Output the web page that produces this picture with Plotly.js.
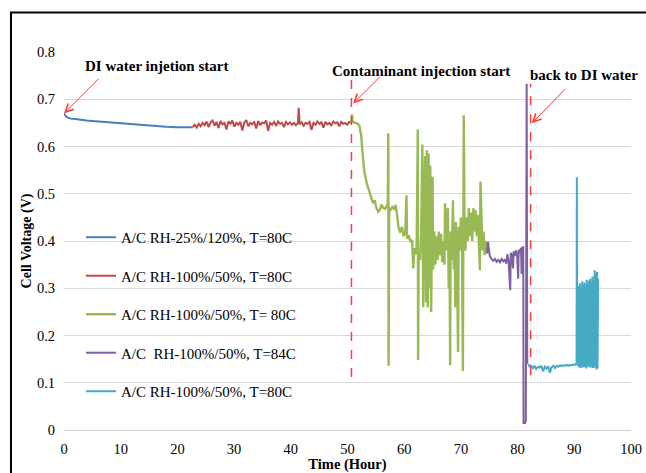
<!DOCTYPE html>
<html>
<head>
<meta charset="utf-8">
<script src="https://cdn.plot.ly/plotly-3.0.1.min.js"></script>
<style>
  html, body { margin: 0; padding: 0; background: #ffffff; }
  #chart { width: 646px; height: 473px; }
</style>
</head>
<body>
<div id="chart"></div>
<script>
// ---------------- data ----------------
const seriesNames = [
  "A/C RH-25%/120%, T=80C",
  "A/C RH-100%/50%, T=80C",
  "A/C RH-100%/50%, T= 80C",
  "A/C  RH-100%/50%, T=84C",
  "A/C RH-100%/50%, T=80C"
];

const blueX = [0, 0.3, 0.7, 1.2, 2, 3, 4, 5, 6, 8, 10, 12, 14, 16, 18, 20, 22, 22.7];
const blueY = [0.670, 0.664, 0.661, 0.659, 0.658, 0.656, 0.655, 0.654, 0.653, 0.652, 0.650, 0.648, 0.646, 0.644, 0.642, 0.641, 0.641, 0.641];

const redX = [22.7, 23.05, 23.4, 23.75, 24.1, 24.45, 24.8, 25.15, 25.5, 25.85,
              26.2, 26.55, 26.9, 27.25, 27.6, 27.95, 28.3, 28.65, 29.0, 29.35,
              29.7, 30.05, 30.4, 30.75, 31.1, 31.45, 31.8, 32.15, 32.5, 32.85,
              33.2, 33.55, 33.9, 34.25, 34.6, 34.95, 35.3, 35.65, 36.0, 36.35,
              36.7, 37.05, 37.4, 37.75, 38.1, 38.45, 38.8, 39.15, 39.5, 39.85,
              40.2, 40.55, 40.9, 41.25,
              41.4,
              41.55, 41.9, 42.25, 42.6, 42.95, 43.3, 43.65, 44.0, 44.35, 44.7,
              45.05, 45.4, 45.75, 46.1, 46.45, 46.8, 47.15, 47.5, 47.85, 48.2,
              48.55, 48.9, 49.25, 49.6, 49.95, 50.3,
              50.7];
const redY = [0.641, 0.646, 0.640, 0.648, 0.643, 0.650, 0.645, 0.653, 0.641, 0.651,
              0.655, 0.644, 0.652, 0.639, 0.654, 0.647, 0.650, 0.636, 0.653, 0.648,
              0.655, 0.642, 0.650, 0.646, 0.652, 0.634, 0.651, 0.656, 0.643, 0.650,
              0.647, 0.653, 0.638, 0.654, 0.645, 0.651, 0.649, 0.655, 0.633, 0.650,
              0.646, 0.652, 0.644, 0.653, 0.648, 0.650, 0.641, 0.652, 0.647, 0.651,
              0.646, 0.650, 0.645, 0.649,
              0.682,
              0.647, 0.651, 0.644, 0.650, 0.648, 0.652, 0.635, 0.650, 0.646, 0.653,
              0.648, 0.651, 0.640, 0.652, 0.647, 0.650, 0.645, 0.653, 0.649, 0.651,
              0.643, 0.652, 0.648, 0.650, 0.646, 0.652,
              0.650];

const greenX = [50.7, 50.8, 50.9, 51.3, 51.8, 52.1, 52.4, 52.7, 53.0, 53.4,
                53.8, 54.2, 54.5, 54.8, 55.1, 55.4, 55.7, 56.0, 56.3, 56.6,
                56.9, 57.1, 57.2, 57.25, 57.35, 57.6, 57.9, 58.2, 58.5, 58.8,
                59.0, 59.3, 59.6, 59.9, 60.2, 60.4, 60.5, 60.8, 61.1, 61.4,
                61.6, 61.8, 62.0, 62.2, 62.4, 62.45, 62.55, 62.8, 63.0, 63.2,
                63.35, 63.5, 63.7, 63.85, 64.0, 64.15, 64.3, 64.45, 64.6, 64.75,
                64.9, 65.0, 65.1, 65.3, 65.5, 65.7, 65.9, 66.1, 66.3, 66.5,
                66.7, 66.9, 67.1, 67.2, 67.35, 67.5, 67.7, 67.85, 68.0, 68.1,
                68.2, 68.4, 68.6, 68.75, 68.9, 69.0, 69.1, 69.3, 69.5, 69.6,
                69.8, 70.0, 70.2, 70.35, 70.5, 70.65, 70.8, 71.0, 71.2, 71.4,
                71.6, 71.8, 72.0, 72.2, 72.4, 72.6, 72.8, 73.0, 73.2, 73.35,
                73.45, 73.6, 73.8, 74.0, 74.2, 74.4, 74.6];
const greenY = [0.650, 0.668, 0.652, 0.650, 0.648, 0.644, 0.625, 0.580, 0.545, 0.522,
                0.506, 0.492, 0.480, 0.486, 0.470, 0.462, 0.466, 0.477, 0.470, 0.468,
                0.474, 0.470, 0.628, 0.136, 0.470, 0.466, 0.472, 0.468, 0.476, 0.450,
                0.428, 0.418, 0.430, 0.410, 0.420, 0.497, 0.405, 0.412, 0.398, 0.402,
                0.342, 0.385, 0.372, 0.390, 0.636, 0.148, 0.380, 0.360, 0.420, 0.604,
                0.260, 0.450, 0.580, 0.270, 0.592, 0.260, 0.585, 0.300, 0.560, 0.250,
                0.430, 0.536, 0.340, 0.420, 0.350, 0.410, 0.360, 0.420, 0.370, 0.415,
                0.355, 0.400, 0.350, 0.480, 0.380, 0.420, 0.470, 0.300, 0.380, 0.137,
                0.420, 0.360, 0.486, 0.340, 0.430, 0.260, 0.440, 0.370, 0.165, 0.430,
                0.380, 0.450, 0.390, 0.125, 0.666, 0.420, 0.380, 0.450, 0.400, 0.470,
                0.410, 0.460, 0.400, 0.470, 0.420, 0.465, 0.410, 0.455, 0.400, 0.338,
                0.526, 0.430, 0.380, 0.420, 0.370, 0.400, 0.374];

const purpleX = [74.6, 74.8, 74.9, 75.1, 75.4, 75.7, 76.0, 76.3, 76.6, 76.9,
                 77.2, 77.5, 77.8, 78.0, 78.2, 78.4, 78.7, 78.8, 79.0, 79.2,
                 79.3, 79.5, 79.7, 79.9, 80.1, 80.2, 80.4, 80.6, 80.7, 80.8,
                 81.0, 81.05, 81.3, 81.45, 81.6, 81.7];
const purpleY = [0.374, 0.398, 0.385, 0.368, 0.362, 0.358, 0.362, 0.356, 0.360, 0.355,
                 0.362, 0.357, 0.361, 0.352, 0.372, 0.360, 0.296, 0.375, 0.370, 0.342,
                 0.378, 0.368, 0.380, 0.372, 0.320, 0.382, 0.375, 0.385, 0.330, 0.386,
                 0.387, 0.015, 0.015, 0.020, 0.733, 0.140];

const cyanX = [81.9, 82.1, 82.4, 82.7, 83.0, 83.3, 83.6, 83.9, 84.2, 84.5,
               84.8, 85.1, 85.4, 85.7, 86.0, 86.3, 86.6, 86.9, 87.2, 87.5,
               87.8, 88.1, 88.4, 88.7, 89.0, 89.3, 89.6, 89.9, 90.2, 90.4,
               90.45, 90.5, 90.6, 90.7, 90.8, 90.9, 91.0, 91.1, 91.2, 91.3,
               91.4, 91.5, 91.6, 91.7, 91.8, 91.9, 92.0, 92.1, 92.2, 92.3,
               92.4, 92.5, 92.6, 92.7, 92.8, 92.9, 93.0, 93.1, 93.2, 93.3,
               93.4, 93.5, 93.6, 93.7, 93.8, 93.9, 94.0, 94.1, 94.2];
const cyanY = [0.140, 0.134, 0.136, 0.131, 0.135, 0.129, 0.134, 0.132, 0.136, 0.124,
               0.134, 0.130, 0.135, 0.121, 0.133, 0.136, 0.131, 0.136, 0.134, 0.137,
               0.135, 0.137, 0.136, 0.138, 0.136, 0.138, 0.137, 0.139, 0.138, 0.140,
               0.535, 0.140, 0.300, 0.135, 0.305, 0.132, 0.310, 0.135, 0.302, 0.131,
               0.315, 0.136, 0.308, 0.133, 0.312, 0.134, 0.305, 0.130, 0.318, 0.135,
               0.310, 0.133, 0.316, 0.136, 0.320, 0.132, 0.312, 0.135, 0.325, 0.131,
               0.318, 0.134, 0.338, 0.132, 0.330, 0.128, 0.335, 0.130, 0.320];

const xTickVals = [0, 10, 20, 30, 40, 50, 60, 70, 80, 90, 100];
const yTickVals = [0, 0.1, 0.2, 0.3, 0.4, 0.5, 0.6, 0.7, 0.8];

// event markers (dashed lines) and callouts
const eventX = [50.7, 82.3];
const eventYLow = [0.112, 0.116];
const eventYHigh = [0.750, 0.733];
const calloutText = ["DI water injetion start", "Contaminant injection start", "back to DI water"];
const calloutX = [16.4, 62.9, 91.7];
const calloutY = [0.770, 0.760, 0.751];
const arrowHeadX = [0, 51.0, 82.5];
const arrowHeadY = [0.670, 0.691, 0.649];

// ---------------- styling ----------------
const colors = ["#4A7EBB", "#BE4B48", "#98B954", "#7D60A0", "#46AAC5"];
const widths = [2, 2, 2.4, 2, 2];
const serif = "Liberation Serif";

const xs = [blueX, redX, greenX, purpleX, cyanX];
const ys = [blueY, redY, greenY, purpleY, cyanY];

const traces = xs.map((x, i) => ({
  type: "scatter",
  mode: "lines",
  x: x,
  y: ys[i],
  name: seriesNames[i],
  legendgroup: "g" + i,
  line: { color: colors[i], width: widths[i] }
}));

const shapes = eventX.map((x, i) => ({
  type: "line", xref: "x", yref: "y",
  x0: x, x1: x, y0: eventYLow[i], y1: eventYHigh[i],
  line: { color: "#FF3B3B", width: 1.5, dash: "dash" }
}));
// outer frame
shapes.push({
  type: "rect", xref: "paper", yref: "paper",
  x0: -0.0935, x1: 1.3, y0: -0.3, y1: 1.1045,
  line: { color: "#000000", width: 2 }, fillcolor: "rgba(0,0,0,0)"
});

const annotations = [];
calloutText.forEach((t, i) => {
  annotations.push({
    x: calloutX[i], y: calloutY[i], xref: "x", yref: "y",
    text: "<b>" + t + "</b>", showarrow: false,
    font: { family: serif, size: 15, color: "#000000" }
  });
});
const arrowTail = [[36, -36], [28, -28], [35, -36]];
arrowHeadX.forEach((x, i) => {
  annotations.push({
    x: x, y: arrowHeadY[i], xref: "x", yref: "y",
    text: "", showarrow: true,
    ax: arrowTail[i][0], ay: arrowTail[i][1],
    arrowcolor: "#FF3B3B", arrowwidth: 1, arrowhead: 5, arrowsize: 1.6, standoff: 0
  });
});

const layout = {
  width: 646, height: 473,
  margin: { l: 64, r: 15, t: 52, b: 43 },
  paper_bgcolor: "#ffffff",
  plot_bgcolor: "#ffffff",
  font: { family: serif, size: 14.5, color: "#000000" },
  showlegend: true,
  legend: {
    x: 0.03, y: 0.553, xanchor: "left", yanchor: "top",
    bgcolor: "rgba(0,0,0,0)",
    font: { family: serif, size: 15, color: "#000000" },
    tracegroupgap: 16, traceorder: "grouped"
  },
  xaxis: {
    range: [0, 100], tickvals: xTickVals, ticktext: xTickVals.map(String),
    showgrid: false, zeroline: false,
    showline: true, linecolor: "#D0D0D0", linewidth: 1,
    ticks: "", ticklabelstandoff: 6,
    tickfont: { family: serif, size: 14.5, color: "#000000" },
    title: { text: "<b>Time (Hour)</b>", font: { family: serif, size: 14.5, color: "#000000" }, standoff: 13 }
  },
  yaxis: {
    range: [0, 0.8], tickvals: yTickVals, ticktext: yTickVals.map(String),
    showgrid: true, gridcolor: "#D9D9D9", gridwidth: 1,
    zeroline: false, showline: false, ticks: "", ticklabelstandoff: 8,
    tickfont: { family: serif, size: 14.5, color: "#000000" },
    title: { text: "<b>Cell Voltage (V)</b>", font: { family: serif, size: 14, color: "#000000" }, standoff: 1 }
  },
  shapes: shapes,
  annotations: annotations
};

Plotly.newPlot("chart", traces, layout, { displayModeBar: false, staticPlot: true });
</script>
</body>
</html>
